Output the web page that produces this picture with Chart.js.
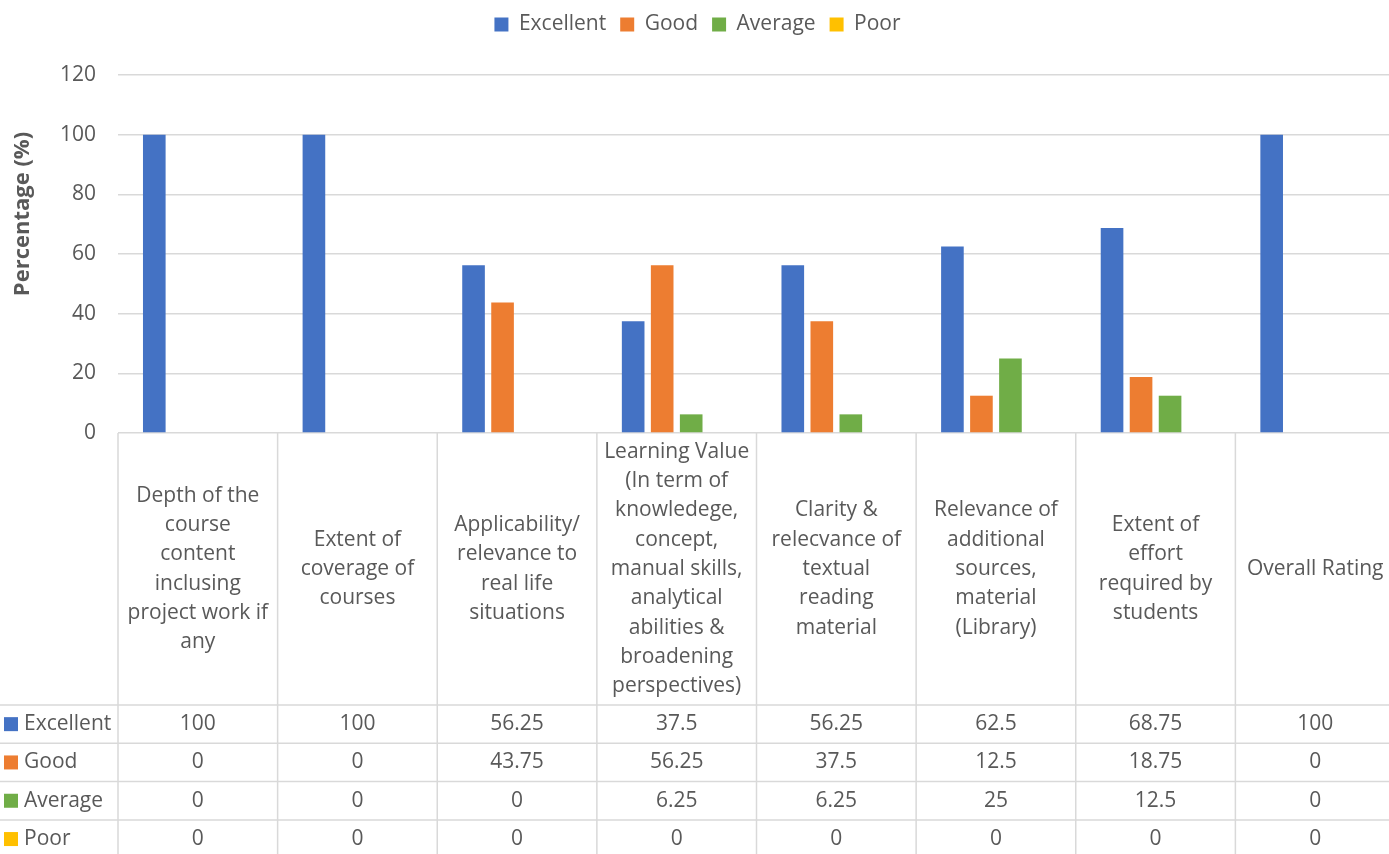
<!DOCTYPE html>
<html>
<head>
<meta charset="utf-8">
<script src="https://cdn.jsdelivr.net/npm/chart.js@4"></script>
<style>
  html, body { margin: 0; padding: 0; background: #fff; overflow: hidden; }
  #wrap { width: 1395px; height: 854px; }
</style>
</head>
<body>
<div id="wrap"><canvas id="bar-chart"></canvas></div>
<script>
const categories = [
    ["Depth of the", "course", "content", "inclusing", "project work if", "any"],
    ["Extent of", "coverage of", "courses"],
    ["Applicability/", "relevance to", "real life", "situations"],
    ["Learning Value", "(In term of", "knowledege,", "concept,", "manual skills,", "analytical", "abilities &", "broadening", "perspectives)"],
    ["Clarity &", "relecvance of", "textual", "reading", "material"],
    ["Relevance of", "additional", "sources,", "material", "(Library)"],
    ["Extent of", "effort", "required by", "students"],
    ["Overall Rating"]
];
const seriesNames = ["Excellent", "Good", "Average", "Poor"];
const excellent = [100, 100, 56.25, 37.5, 56.25, 62.5, 68.75, 100];
const good = [0, 0, 43.75, 56.25, 37.5, 12.5, 18.75, 0];
const average = [0, 0, 0, 6.25, 6.25, 25, 12.5, 0];
const poor = [0, 0, 0, 0, 0, 0, 0, 0];
const colors = ["#4472C4", "#ED7D31", "#70AD47", "#FFC000"];
const yTitle = 'Percentage (%)';

const FONT = "'Open Sans', 'Noto Sans', sans-serif";
const TEXT = '#595959';
const GRID = '#d9d9d9';
const HEADER_H = 272;
const ROW_H = 38.3;
const LINE_H = 29.3;

// draws the data table under the plot, plus the y title (excel puts it off-centre)
const tablePlugin = {
    id: 'dataTable',
    afterDraw(chart) {
        const { ctx, chartArea, scales } = chart;
        const x = scales.x;
        const n = categories.length;
        const w = (chartArea.right - chartArea.left) / n;
        const top = chartArea.bottom;
        const headBottom = top + HEADER_H;
        ctx.save();
        ctx.strokeStyle = GRID;
        ctx.lineWidth = 1.5;
        for (let i = 0; i <= n; i++) {
            const xx = chartArea.left + i * w;
            ctx.beginPath();
            ctx.moveTo(xx, top);
            ctx.lineTo(xx, chart.height + 10);
            ctx.stroke();
        }
        for (let r = 0; r <= chart.data.datasets.length; r++) {
            const yy = headBottom + r * ROW_H;
            ctx.beginPath();
            ctx.moveTo(0, yy);
            ctx.lineTo(chart.width, yy);
            ctx.stroke();
        }

        ctx.fillStyle = TEXT;
        ctx.font = '21px ' + FONT;
        ctx.textAlign = 'center';
        ctx.textBaseline = 'middle';
        const mid = (top + headBottom) / 2;
        categories.forEach((lines, i) => {
            const cx = x.getPixelForValue(i);
            const y0 = mid - (lines.length - 1) * LINE_H / 2;
            lines.forEach((t, k) => ctx.fillText(t, cx, y0 + k * LINE_H));
        });

        chart.data.datasets.forEach((ds, r) => {
            const cy = headBottom + r * ROW_H + ROW_H / 2;
            ctx.fillStyle = ds.backgroundColor;
            ctx.fillRect(4, cy - 7, 14, 14);
            ctx.fillStyle = TEXT;
            ctx.textAlign = 'left';
            ctx.fillText(ds.label, 24, cy);
            ctx.textAlign = 'center';
            ds.data.forEach((v, i) => ctx.fillText(String(v), x.getPixelForValue(i), cy));
        });

        ctx.translate(23, chartArea.top + 139);
        ctx.rotate(-Math.PI / 2);
        ctx.font = 'bold 22px ' + FONT;
        ctx.fillText(yTitle, 0, 0);
        ctx.restore();
    }
};

const chart = new Chart(document.getElementById('bar-chart'), {
    type: 'bar',
    data: {
        labels: categories,
        datasets: [excellent, good, average, poor].map((d, i) => ({
            label: seriesNames[i],
            data: d,
            backgroundColor: colors[i],
            categoryPercentage: 0.727,
            barPercentage: 0.78
        }))
    },
    options: {
        responsive: true,
        maintainAspectRatio: false,
        animation: false,
        layout: { padding: { top: 0, left: 0, right: 0, bottom: 421 } },
        plugins: {
            legend: {
                position: 'top',
                labels: {
                    boxWidth: 14,
                    boxHeight: 14,
                    padding: 14,
                    color: TEXT,
                    font: { family: FONT, size: 21 }
                }
            },
            tooltip: { enabled: false }
        },
        scales: {
            x: {
                display: false
            },
            // empty box that leaves room between legend and plot
            gap: {
                type: 'linear',
                position: 'top',
                display: true,
                ticks: { display: false },
                grid: { display: false },
                border: { display: false },
                afterFit: (s) => { s.height = 30; }
            },
            y: {
                min: 0,
                max: 120,
                ticks: {
                    stepSize: 20,
                    color: TEXT,
                    padding: 22,
                    font: { family: FONT, size: 21 }
                },
                grid: { color: GRID, lineWidth: 1.5, drawTicks: false },
                border: { display: false },
                afterFit: (s) => { s.width = 118; }
            }
        }
    },
    plugins: [tablePlugin]
});
</script>
</body>
</html>
